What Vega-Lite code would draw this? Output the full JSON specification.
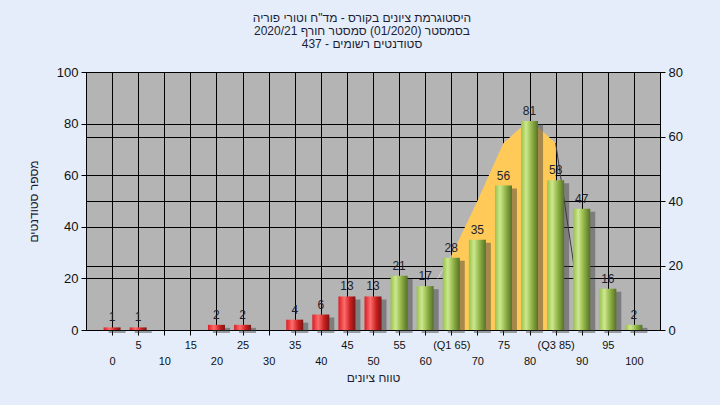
{
  "$schema": "https://vega.github.io/schema/vega-lite/v6.json",
  "width": 574,
  "height": 258,
  "autosize": {"type": "none"},
  "padding": {"left": 86, "top": 72, "right": 60, "bottom": 75},
  "background": "#E4EDF9",
  "view": {"fill": "#B4B4B4", "stroke": "#000000", "strokeWidth": 1},
  "config": {"font": "Liberation Sans"},
  "title": {
    "text": ["היסטוגרמת ציונים בקורס - מד\"ח וטורי פוריה", "בסמסטר  (01/2020)  סמסטר חורף  2020/21", "סטודנטים רשומים - 437"],
    "fontSize": 12,
    "fontWeight": "normal",
    "color": "#1d1d35",
    "anchor": "middle",
    "lineHeight": 13,
    "offset": 15,
    "dx": -11
  },
  "datasets": {
    "bars": [
      {"x": 0, "n": 1}, {"x": 5, "n": 1}, {"x": 10, "n": 0}, {"x": 15, "n": 0},
      {"x": 20, "n": 2}, {"x": 25, "n": 2}, {"x": 30, "n": 0}, {"x": 35, "n": 4},
      {"x": 40, "n": 6}, {"x": 45, "n": 13}, {"x": 50, "n": 13}, {"x": 55, "n": 21},
      {"x": 60, "n": 17}, {"x": 65, "n": 28}, {"x": 70, "n": 35}, {"x": 75, "n": 56},
      {"x": 80, "n": 81}, {"x": 85, "n": 58}, {"x": 90, "n": 47}, {"x": 95, "n": 16},
      {"x": 100, "n": 2}
    ],
    "curve": [
      {"x": 62.4, "c": 16, "part": "left"},
      {"x": 65, "c": 23, "part": "left"},
      {"x": 65, "c": 23, "part": "mid"},
      {"x": 70, "c": 40, "part": "mid"},
      {"x": 75, "c": 58, "part": "mid"},
      {"x": 78.5, "c": 63, "part": "mid"},
      {"x": 81.5, "c": 63, "part": "mid"},
      {"x": 85, "c": 58, "part": "mid"},
      {"x": 85, "c": 58, "part": "right"},
      {"x": 88.5, "c": 20, "part": "right"}
    ]
  },
  "layer": [
    {
      "data": {"name": "curve"},
      "encoding": {
        "x": {
          "field": "x", "type": "quantitative",
          "scale": {"domain": [-5, 105], "nice": false, "zero": false, "padding": 0},
          "axis": {
            "values": [0, 5, 10, 15, 20, 25, 30, 35, 40, 45, 50, 55, 60, 65, 70, 75, 80, 85, 90, 95, 100],
            "grid": true, "gridColor": "#000000", "gridOpacity": 1, "gridWidth": 1,
            "domainColor": "#000000", "tickColor": "#000000", "tickSize": 5,
            "labelFontSize": 11, "labelColor": "#111111", "labelPadding": 4,
            "labelLineHeight": 16, "labelOverlap": false, "labelFlush": false,
            "labelExpr": "datum.value === 65 ? '(Q1 65)' : datum.value === 85 ? '(Q3 85)' : (datum.value % 10 === 0 ? ['', datum.label] : datum.label)",
            "title": "טווח ציונים", "titleFontSize": 12, "titleFontWeight": "normal",
            "titleColor": "#1d1d35", "titlePadding": 6
          }
        },
        "y": {
          "field": "c", "type": "quantitative",
          "scale": {"domain": [0, 80], "nice": false, "padding": 0},
          "axis": {
            "orient": "right", "values": [0, 20, 40, 60, 80],
            "grid": true, "gridColor": "#000000", "gridOpacity": 1, "gridWidth": 1,
            "domainColor": "#000000", "tickColor": "#000000", "tickSize": 5,
            "labelFontSize": 13, "labelColor": "#111111", "labelPadding": 3, "title": null
          }
        }
      },
      "layer": [
        {"transform": [{"filter": "datum.part === 'mid'"}], "mark": {"type": "area", "color": "#FFCA58", "opacity": 1}},
        {"transform": [{"filter": "datum.part === 'left'"}], "mark": {"type": "line", "color": "#D6D6D6", "strokeWidth": 1}},
        {"transform": [{"filter": "datum.part === 'right'"}], "mark": {"type": "line", "color": "#3C3C3C", "strokeWidth": 1}}
      ]
    },
    {
      "data": {"name": "bars"},
      "encoding": {
        "x": {
          "field": "x", "type": "quantitative",
          "scale": {"domain": [-5, 105], "nice": false, "zero": false, "padding": 0},
          "axis": {
            "values": [0, 5, 10, 15, 20, 25, 30, 35, 40, 45, 50, 55, 60, 65, 70, 75, 80, 85, 90, 95, 100],
            "grid": true, "gridColor": "#000000", "gridOpacity": 1, "gridWidth": 1,
            "domainColor": "#000000", "tickColor": "#000000", "tickSize": 5,
            "labelFontSize": 11, "labelColor": "#111111", "labelPadding": 4,
            "labelLineHeight": 16, "labelOverlap": false, "labelFlush": false,
            "labelExpr": "datum.value === 65 ? '(Q1 65)' : datum.value === 85 ? '(Q3 85)' : (datum.value % 10 === 0 ? ['', datum.label] : datum.label)",
            "title": "טווח ציונים", "titleFontSize": 12, "titleFontWeight": "normal",
            "titleColor": "#1d1d35", "titlePadding": 6
          }
        },
        "y": {
          "field": "n", "type": "quantitative",
          "scale": {"domain": [0, 100], "nice": false, "padding": 0},
          "axis": {
            "orient": "left", "values": [0, 20, 40, 60, 80, 100],
            "grid": true, "gridColor": "#000000", "gridOpacity": 1, "gridWidth": 1,
            "domainColor": "#000000", "tickColor": "#000000", "tickSize": 5,
            "labelFontSize": 13, "labelColor": "#111111", "labelPadding": 3,
            "title": "מספר סטודנטים", "titleFontSize": 12, "titleFontWeight": "normal",
            "titleColor": "#1d1d35", "titlePadding": 16
          }
        }
      },
      "layer": [
        {
          "transform": [{"filter": "datum.n > 0"}],
          "mark": {"type": "bar", "width": 17, "color": "#3a3a3a", "opacity": 0.45, "xOffset": 5, "yOffset": 3}
        },
        {
          "transform": [{"filter": "datum.n > 0 && datum.x <= 50"}],
          "mark": {
            "type": "bar", "width": 17,
            "color": {"gradient": "linear", "x1": 0, "y1": 0, "x2": 1, "y2": 0,
              "stops": [
                {"offset": 0, "color": "#D81E24"},
                {"offset": 0.35, "color": "#FF6B6B"},
                {"offset": 0.7, "color": "#C81E1E"},
                {"offset": 1, "color": "#7A1515"}
              ]}
          }
        },
        {
          "transform": [{"filter": "datum.n > 0 && datum.x > 50"}],
          "mark": {
            "type": "bar", "width": 17,
            "color": {"gradient": "linear", "x1": 0, "y1": 0, "x2": 1, "y2": 0,
              "stops": [
                {"offset": 0, "color": "#98C24A"},
                {"offset": 0.3, "color": "#CDE88E"},
                {"offset": 0.65, "color": "#8DB043"},
                {"offset": 1, "color": "#56702A"}
              ]}
          }
        },
        {
          "transform": [{"filter": "datum.n > 0"}],
          "mark": {"type": "text", "baseline": "bottom", "dy": -3, "fontSize": 12, "color": "#1e1e2e"},
          "encoding": {"text": {"field": "n", "type": "quantitative"}}
        },
        {
          "data": {"values": [{"t": "במשימה: ציון סופי במערכת האקדמית במחשב המרכזי"}]},
          "mark": {"type": "text", "fontSize": 12, "color": "#2b2218", "baseline": "middle", "align": "center"},
          "encoding": {
            "x": {"datum": 49.8},
            "y": {"datum": 94.6},
            "text": {"field": "t", "type": "nominal"}
          }
        }
      ]
    }
  ],
  "resolve": {"scale": {"y": "independent"}}
}
